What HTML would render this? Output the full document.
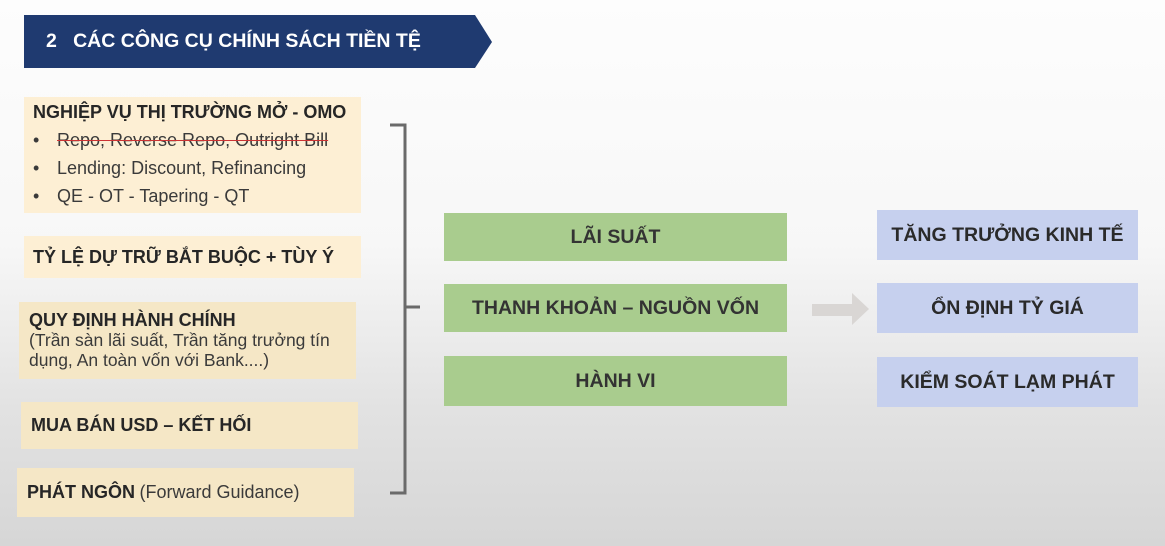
<!DOCTYPE html>
<html><head><meta charset="utf-8"><style>
body{margin:0;width:1165px;height:546px;overflow:hidden;font-family:"Liberation Sans",sans-serif;background:linear-gradient(#fdfdfd 0%,#f7f7f7 45%,#e2e2e2 75%,#d6d6d6 100%);position:relative}
.a{position:absolute;box-sizing:border-box}
.y{background:#fdefd4}
.t{background:#f5e7c6}
.g{background:#a9cc8e;color:#333;font-weight:bold;font-size:19.5px;display:flex;align-items:center;justify-content:center}
.b{background:#c6d0ee;color:#2a2a2a;font-weight:bold;font-size:19.5px;display:flex;align-items:center;justify-content:center}
.h{font-weight:bold;font-size:18px;color:#262626}
.n{font-size:18px;color:#3a3a3a}
</style></head><body>
<svg class="a" style="left:0;top:0" width="1165" height="546">
<polygon points="24,15 475,15 492,42 475,68 24,68" fill="#1f3a70"/>
<path d="M390,125 H405 V493 H390 M405,307 H420" fill="none" stroke="#6a6a6a" stroke-width="3"/>
<polygon points="812,304 852,304 852,293 869,309 852,325 852,316 812,316" fill="#d9d6d4"/>
</svg>
<div class="a" style="left:46px;top:30px;color:#fff;font-weight:bold;font-size:19.5px">2&nbsp;&nbsp;&nbsp;CÁC CÔNG CỤ CHÍNH SÁCH TIỀN TỆ</div>

<div class="a y" style="left:24px;top:97px;width:337px;height:116px;padding:5px 0 0 9px">
<div class="h" style="margin-bottom:3px">NGHIỆP VỤ THỊ TRƯỜNG MỞ - OMO</div>
<div class="n" style="line-height:28px"><span style="display:inline-block;width:24px">•</span><span style="text-decoration:line-through;text-decoration-color:#c33">Repo, Reverse Repo, Outright Bill</span><br><span style="display:inline-block;width:24px">•</span>Lending: Discount, Refinancing<br><span style="display:inline-block;width:24px">•</span>QE - OT - Tapering - QT</div>
</div>
<div class="a y" style="left:24px;top:236px;width:337px;height:42px;padding:11px 0 0 9px"><div class="h">TỶ LỆ DỰ TRỮ BẮT BUỘC + TÙY Ý</div></div>
<div class="a t" style="left:19px;top:302px;width:337px;height:77px;padding:8px 4px 0 10px;line-height:20px">
<div class="h">QUY ĐỊNH HÀNH CHÍNH</div><div class="n" style="font-size:17.5px">(Trần sàn lãi suất, Trần tăng trưởng tín dụng, An toàn vốn với Bank....)</div></div>
<div class="a t" style="left:21px;top:402px;width:337px;height:47px;padding:13px 0 0 10px"><div class="h">MUA BÁN USD – KẾT HỐI</div></div>
<div class="a t" style="left:17px;top:468px;width:337px;height:49px;padding:14px 0 0 10px"><span class="h">PHÁT NGÔN</span> <span class="n">(Forward Guidance)</span></div>

<div class="a g" style="left:444px;top:213px;width:343px;height:48px">LÃI SUẤT</div>
<div class="a g" style="left:444px;top:284px;width:343px;height:48px">THANH KHOẢN – NGUỒN VỐN</div>
<div class="a g" style="left:444px;top:356px;width:343px;height:50px">HÀNH VI</div>

<div class="a b" style="left:877px;top:210px;width:261px;height:50px">TĂNG TRƯỞNG KINH TẾ</div>
<div class="a b" style="left:877px;top:283px;width:261px;height:50px">ỔN ĐỊNH TỶ GIÁ</div>
<div class="a b" style="left:877px;top:357px;width:261px;height:50px">KIỂM SOÁT LẠM PHÁT</div>
</body></html>
